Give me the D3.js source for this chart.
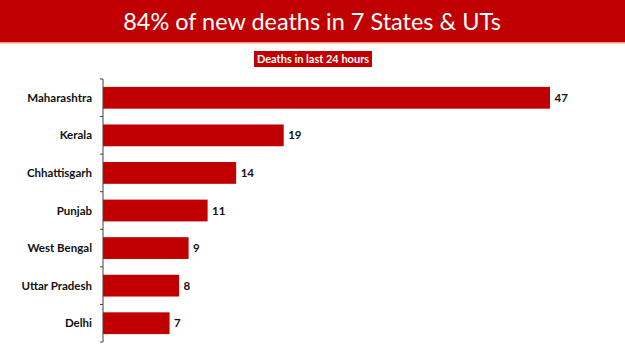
<!DOCTYPE html>
<html>
<head>
<meta charset="utf-8">
<script src="https://cdn.jsdelivr.net/npm/d3@7"></script>
<style>
  body { margin: 0; background: #fff; }
  svg { display: block; }
</style>
</head>
<body>
<div id="wrapper"></div>
<script>
const states = ["Maharashtra", "Kerala", "Chhattisgarh", "Punjab", "West Bengal", "Uttar Pradesh", "Delhi"];
const deaths = [47, 19, 14, 11, 9, 8, 7];
const titleText = "84% of new deaths in 7 States & UTs";
const subtitleText = "Deaths in last 24 hours";

function drawBarChart() {
    const data = states.map((s, i) => ({ state: s, value: deaths[i] }));

    let dimensions = {
        width: 625,
        height: 351,
        margin: { top: 79, right: 75, bottom: 9, left: 103 },
    }
    dimensions.boundedWidth = 550 - dimensions.margin.left;
    dimensions.boundedHeight = 342 - dimensions.margin.top;

    const svg = d3.select("#wrapper")
        .append("svg")
        .attr("width", dimensions.width)
        .attr("height", dimensions.height);

    // header banner
    svg.append("rect")
        .attr("x", 0).attr("y", 0)
        .attr("width", dimensions.width).attr("height", 42)
        .attr("fill", "#c00000");
    svg.append("rect")
        .attr("x", 0).attr("y", 42)
        .attr("width", dimensions.width).attr("height", 1.5)
        .attr("fill", "#f2a07a");

    const title = svg.append("text")
        .attr("x", 312)
        .attr("y", 29.5)
        .attr("text-anchor", "middle")
        .attr("fill", "#fff")
        .style("font-family", "Lato, 'Open Sans', sans-serif")
        .style("font-size", "25px")
        .text(titleText);
    // fit title width to reference
    const tw = title.node().getComputedTextLength();
    title.style("font-size", (25 * 378 / tw) + "px");

    svg.append("rect")
        .attr("x", 254).attr("y", 51)
        .attr("width", 118).attr("height", 16)
        .attr("fill", "#c00000");
    svg.append("text")
        .attr("x", 313).attr("y", 62.5)
        .attr("text-anchor", "middle")
        .attr("fill", "#fff")
        .style("font-family", "Lato, sans-serif")
        .style("font-weight", "bold")
        .style("font-size", "11px")
        .text(subtitleText);

    const xScale = d3.scaleLinear()
        .domain([0, 47])
        .range([0, dimensions.boundedWidth]);

    const yScale = d3.scaleBand()
        .domain(states)
        .range([0, dimensions.boundedHeight])
        .paddingInner(0.42)
        .paddingOuter(0.21);

    const bounds = svg.append("g")
        .attr("transform", `translate(${dimensions.margin.left},${dimensions.margin.top})`);

    bounds.selectAll(".bar")
        .data(data)
        .enter()
        .append("rect")
        .attr("class", "bar")
        .attr("x", 0)
        .attr("y", d => yScale(d.state))
        .attr("width", d => xScale(d.value))
        .attr("height", yScale.bandwidth())
        .attr("fill", "#c00000");

    bounds.selectAll(".val")
        .data(data)
        .enter()
        .append("text")
        .attr("class", "val")
        .attr("x", d => xScale(d.value) + 4.5)
        .attr("y", d => yScale(d.state) + yScale.bandwidth() / 2)
        .attr("dy", "0.36em")
        .style("font-family", "Lato, sans-serif")
        .style("font-weight", "bold")
        .style("font-size", "11.5px")
        .attr("fill", "#111")
        .text(d => d.value);

    // y axis: tick marks at band boundaries, labels centred in bands
    const axis = bounds.append("g");
    axis.append("line")
        .attr("x1", 0).attr("x2", 0)
        .attr("y1", 0).attr("y2", dimensions.boundedHeight)
        .attr("stroke", "#404040")
        .attr("stroke-width", 1);
    const boundaries = d3.range(states.length + 1).map(i => i * dimensions.boundedHeight / states.length);
    axis.selectAll(".tick")
        .data(boundaries)
        .enter()
        .append("line")
        .attr("x1", -3).attr("x2", 0)
        .attr("y1", d => d).attr("y2", d => d)
        .attr("stroke", "#404040");
    axis.selectAll(".label")
        .data(states)
        .enter()
        .append("text")
        .attr("x", -11)
        .attr("y", d => yScale(d) + yScale.bandwidth() / 2)
        .attr("dy", "0.36em")
        .attr("text-anchor", "end")
        .style("font-family", "Lato, sans-serif")
        .style("font-weight", "bold")
        .style("font-size", "11.5px")
        .attr("fill", "#111")
        .text(d => d);
}

drawBarChart();
</script>
</body>
</html>
